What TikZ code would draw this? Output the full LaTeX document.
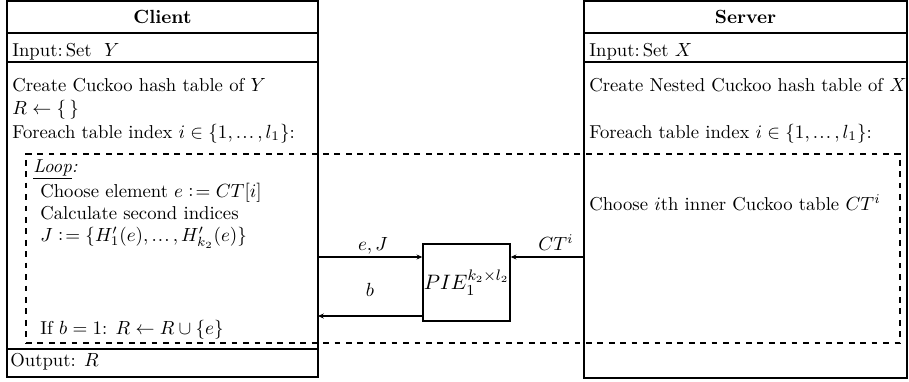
\documentclass[tikz,border=0pt]{standalone}
\usetikzlibrary{arrows.meta}
\newcommand\defeq{\mathrel{\vcenter{\hbox{:}}\!=}}
\newcommand\tdots{\mathinner{.\kern0.6pt.\kern0.6pt.}}
\begin{document}
\begin{tikzpicture}[x=0.525pt,y=-0.525pt,
  frame/.style={draw,line width=0.9pt},
  loopbox/.style={draw,dashed,line width=0.7pt},
  txt/.style={anchor=base west,inner sep=0pt,font=\fontsize{9.8pt}{12pt}\selectfont},
  head/.style={anchor=base,inner sep=0pt,font=\bfseries},
  msg/.style={line width=0.75pt,-{Stealth[length=3pt,width=2.6pt]}},
  lbl/.style={anchor=base,inner sep=0pt}]
\useasboundingbox (0,0) rectangle (909,381);

% client column
\node[frame,inner sep=0pt,minimum width=311*0.525pt,minimum height=376*0.525pt] (client) at (162.5,189) {};
\draw[frame] (7,33) -- (318,33) (7,62) -- (318,62) (7,349) -- (318,349);
% server column
\node[frame,inner sep=0pt,minimum width=323*0.525pt,minimum height=377*0.525pt] (server) at (745.5,189.5) {};
\draw[frame] (584,33) -- (907,33) (584,62) -- (907,62);

% loop region spanning both sides
\node[loopbox,inner sep=0pt,minimum width=874*0.525pt,minimum height=189*0.525pt] (loop) at (463,248.5) {};

% client text
\node[head] (chead) at (162.5,23) {Client};
\node[txt] (cin) at (12,56) {Input:\,Set \ $Y$};
\node[txt] (c1) at (12,91) {Create Cuckoo hash table of $Y$};
\node[txt] (c2) at (12,114) {$R\leftarrow\{\,\}$};
\node[txt] (c3) at (12,138) {Foreach table index $i\in\{1,\tdots,l_1\}$:};
\node[txt] (c4) at (33,172) {\underline{\textit{Loop}}\textit{:}};
\node[txt] (c5) at (40,197) {Choose element $e\defeq CT[i]$};
\node[txt] (c6) at (40,219) {Calculate second indices};
\node[txt] (c7) at (40,241) {$J\defeq\{H'_1(e),\tdots,H'_{k_2}(e)\}$};
\node[txt] (c8) at (40,334) {If $b=1$: $R\leftarrow R\cup\{e\}$};
\node[txt] (cout) at (10,366) {Output: $R$};

% server text
\node[head] (shead) at (745.5,23) {Server};
\node[txt] (sin) at (589,56) {Input:\,Set $X$};
\node[txt] (s1) at (589,91) {Create Nested Cuckoo hash table of $X$};
\node[txt] (s2) at (589,138) {Foreach table index $i\in\{1,\tdots,l_1\}$:};
\node[txt] (s3) at (589,210) {Choose $i$th inner Cuckoo table $CT^i$};

% functionality box
\node[draw,line width=0.75pt,inner sep=0pt,minimum width=87*0.525pt,minimum height=77*0.525pt] (pie) at (466.5,282.5) {\fontsize{11pt}{13pt}\selectfont $PIE_1^{k_2{\times}l_2}$};

% messages
\coordinate (ejout) at (318,257);
\coordinate (ctout) at (584,257);
\coordinate (bin) at (318,316);
\draw[msg] (ejout) -- (ejout -| pie.west);
\draw[msg] (ctout) -- (ctout -| pie.east);
\draw[msg] (bin -| pie.west) -- (bin);
\node[lbl] (ejl) at (373,250) {$e,J$};
\node[lbl] (bl) at (370,296) {$b$};
\node[lbl] (ctl) at (556,250) {$CT^i$};
\end{tikzpicture}
\end{document}
